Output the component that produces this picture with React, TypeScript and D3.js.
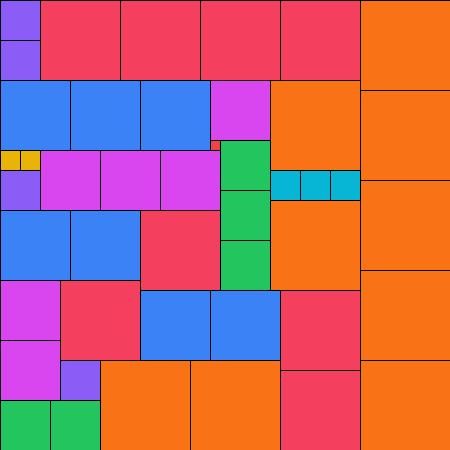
import React from "react";
import * as d3 from "d3";

// Partridge puzzle (n = 9): n copies of an n×n square tile a 45×45 square.
const GRID = 45;
const sizes = [1, 2, 3, 4, 5, 6, 7, 8, 9];
const colors = ["#ef4444", "#eab308", "#06b6d4", "#8b5cf6", "#22c55e", "#d946ef", "#3b82f6", "#f43f5e", "#f97316"];

// Grid positions [col, row] of each tile, grouped by tile size
const pos1 = [[21, 14]];
const pos2 = [[0, 15], [2, 15]];
const pos3 = [[27, 17], [30, 17], [33, 17]];
const pos4 = [[0, 0], [0, 4], [0, 17], [6, 36]];
const pos5 = [[22, 14], [22, 19], [22, 24], [0, 40], [5, 40]];
const pos6 = [[21, 8], [4, 15], [10, 15], [16, 15], [0, 28], [0, 34]];
const pos7 = [[0, 8], [7, 8], [14, 8], [0, 21], [7, 21], [14, 29], [21, 29]];
const pos8 = [[4, 0], [12, 0], [20, 0], [28, 0], [14, 21], [6, 28], [28, 29], [28, 37]];
const pos9 = [[36, 0], [36, 9], [36, 18], [36, 27], [36, 36], [27, 8], [27, 20], [10, 36], [19, 36]];
const positions = [pos1, pos2, pos3, pos4, pos5, pos6, pos7, pos8, pos9];

const W = 450;
const H = 450;

export default function App() {
  const x = d3.scaleLinear().domain([0, GRID]).range([0, W]);
  const y = d3.scaleLinear().domain([0, GRID]).range([0, H]);
  const color = d3.scaleOrdinal<number, string>().domain(sizes).range(colors);

  const tiles = sizes.flatMap((s, i) =>
    positions[i].map(([c, r], j) => ({ key: `${s}-${j}`, s, c, r }))
  );

  return (
    <svg
      width={W}
      height={H}
      style={{ position: "fixed", top: 0, left: 0, display: "block" }}
    >
      {tiles.map((t) => (
        <rect
          key={t.key}
          x={x(t.c) + 0.5}
          y={y(t.r) + 0.5}
          width={x(t.s) - x(0)}
          height={y(t.s) - y(0)}
          fill={color(t.s)}
          stroke="#000"
          strokeWidth={1}
        />
      ))}
    </svg>
  );
}
